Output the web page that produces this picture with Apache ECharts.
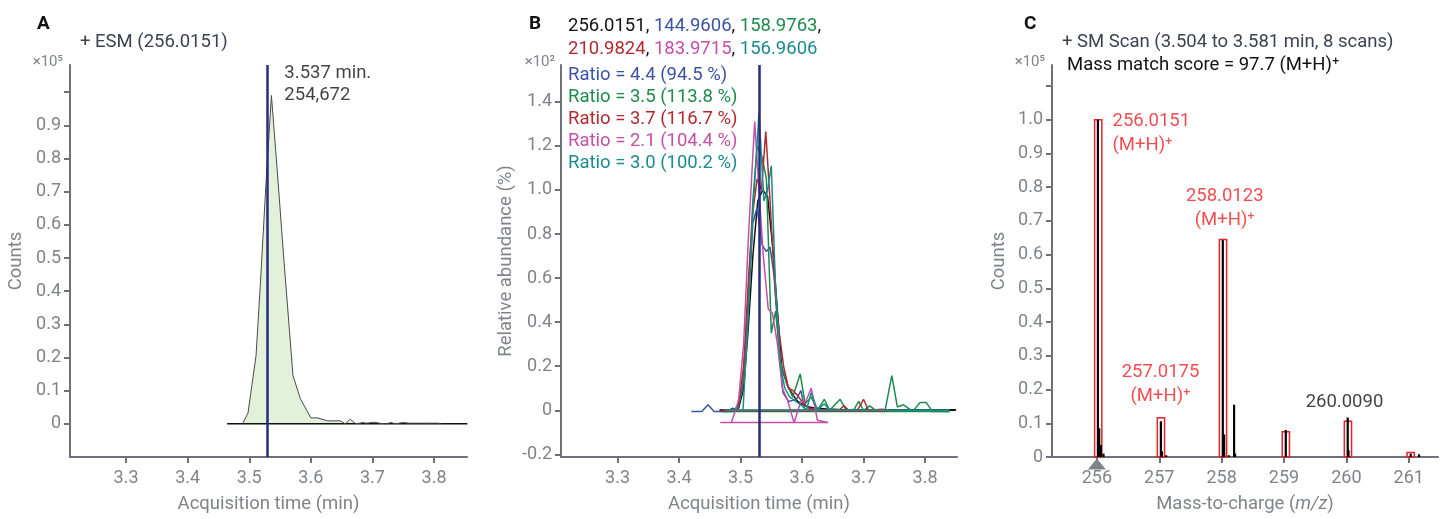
<!DOCTYPE html>
<html>
<head>
<meta charset="utf-8">
<script src="https://cdn.jsdelivr.net/npm/echarts@6/dist/echarts.min.js"></script>
<style>
html,body{margin:0;padding:0;background:#fff}
#main{width:1440px;height:519px}
</style>
</head>
<body>
<div id="main"></div>
<script>
// ---- panel A : extracted ion chromatogram ----
var timeTicks = [3.3, 3.4, 3.5, 3.6, 3.7, 3.8];
var countTicksA = [0, 0.1, 0.2, 0.3, 0.4, 0.5, 0.6, 0.7, 0.8, 0.9, 1.0];
var countLabelsA = [0, 0.1, 0.2, 0.3, 0.4, 0.5, 0.6, 0.7, 0.8, 0.9];
var esmTrace = [[3.489,0],[3.498,0.033],[3.511,0.205],[3.518,0.42],[3.527,0.72],[3.536,0.99],[3.546,0.75],[3.556,0.5],
  [3.571,0.145],[3.583,0.076],[3.600,0.018],[3.611,0.018],[3.627,0.009],[3.648,0.009],[3.656,0],[3.664,0.014],
  [3.673,0],[3.685,0.004],[3.690,0.002],[3.703,0.005],[3.714,0.001],[3.722,0],[3.730,0.004],[3.738,0],
  [3.749,0.004],[3.760,0.002],[3.776,0.002],[3.792,0.002],[3.808,0.002],[3.811,0]];
var esmBaseline = [[3.464,0],[3.854,0]];
var apexTime = 3.533;

// ---- panel B : qualifier ions ----
var ionNames = ['256.0151','144.9606','158.9763','210.9824','183.9715','156.9606'];
var ratioTexts = ['Ratio = 4.4 (94.5 %)','Ratio = 3.5 (113.8 %)','Ratio = 3.7 (116.7 %)','Ratio = 2.1 (104.4 %)','Ratio = 3.0 (100.2 %)'];
var abundTicks = [-0.2, 0, 0.2, 0.4, 0.6, 0.8, 1.0, 1.2, 1.4];
var ion256 = [[3.466,0],[3.489,0],[3.497,0.01],[3.505,0.1],[3.512,0.35],[3.52,0.7],[3.528,0.95],[3.536,1.0],[3.544,0.97],
  [3.552,0.75],[3.56,0.45],[3.567,0.19],[3.577,0.11],[3.585,0.07],[3.593,0.04],[3.6,0.028],[3.61,0.016],[3.62,0.01],
  [3.64,0.006],[3.66,0.004],[3.7,0.003],[3.75,0.003],[3.8,0.002],[3.85,0.002]];
var ion145 = [[3.42,-0.005],[3.437,-0.005],[3.447,0.025],[3.457,-0.005],[3.478,-0.005],[3.487,0.01],[3.495,0],[3.503,0.1],
  [3.512,0.45],[3.52,0.85],[3.527,0.92],[3.535,0.75],[3.542,0.72],[3.548,0.74],[3.555,0.6],[3.562,0.3],[3.569,0.08],
  [3.578,0.04],[3.585,0.045],[3.591,0.05],[3.598,0.09],[3.605,0],[3.615,0.005],[3.64,0]];
var ion159 = [[3.47,-0.005],[3.49,-0.005],[3.497,0.02],[3.505,0.15],[3.513,0.55],[3.52,0.95],[3.527,1.2],[3.535,1.15],
  [3.542,1.05],[3.55,0.35],[3.557,0.45],[3.565,0.22],[3.575,0.12],[3.585,0.06],[3.597,0.165],[3.605,0.03],[3.615,0.06],
  [3.625,0],[3.636,0.05],[3.645,0],[3.662,0.05],[3.672,0],[3.685,0.005],[3.692,0.04],[3.7,0],[3.71,0.02],[3.72,0],
  [3.735,0],[3.746,0.157],[3.755,0.015],[3.765,0.025],[3.78,-0.005],[3.792,0.035],[3.802,0.035],[3.812,-0.005],[3.84,-0.005]];
var ion211 = [[3.47,-0.003],[3.49,0],[3.497,0.03],[3.505,0.2],[3.513,0.6],[3.52,0.9],[3.527,1.05],[3.534,1.0],[3.541,1.265],
  [3.548,0.95],[3.556,0.55],[3.563,0.35],[3.57,0.2],[3.578,0.1],[3.585,0.09],[3.592,0.07],[3.6,0.04],[3.61,0.01],
  [3.63,0],[3.66,0],[3.668,0.02],[3.676,0],[3.69,0],[3.7,0.05],[3.708,0],[3.73,0.005],[3.74,0]];
var ion184 = [[3.485,-0.055],[3.493,0.01],[3.497,0.05],[3.505,0.3],[3.513,0.8],[3.523,1.31],[3.53,1.0],[3.537,0.7],
  [3.545,0.46],[3.552,0.44],[3.56,0.3],[3.568,0.1],[3.576,0.05],[3.587,-0.057],[3.598,0.04],[3.606,0.04],[3.615,0.1],
  [3.625,-0.045],[3.642,-0.055]];
var ion157 = [[3.48,0],[3.497,0],[3.504,0],[3.512,0.4],[3.52,0.9],[3.53,1.35],[3.538,0.95],[3.544,1.0],[3.55,1.11],
  [3.557,0.55],[3.565,0.2],[3.572,0.1],[3.58,0.06],[3.59,0.04],[3.6,0.02],[3.607,0],[3.615,0.08],[3.625,0],
  [3.636,0.03],[3.645,0],[3.84,0]];
// integration baselines: start, end, level
var ionBaselines = [[3.466,3.85,0],null,[3.47,3.84,-0.006],[3.47,3.74,-0.003],[3.467,3.642,-0.055],[3.475,3.84,0]];

// ---- panel C : mass spectrum ----
var mzTicks = [256, 257, 258, 259, 260, 261];
var countTicksC = [0, 0.1, 0.2, 0.3, 0.4, 0.5, 0.6, 0.7, 0.8, 0.9, 1.0, 1.1];
var countLabelsC = [0, 0.1, 0.2, 0.3, 0.4, 0.5, 0.6, 0.7, 0.8, 0.9, 1.0];
var isoMz = [256.021, 257.027, 258.022, 259.03, 260.026, 261.032];
var isoHeight = [1.0, 0.116, 0.645, 0.075, 0.106, 0.013];
var stickMz = [256.016, 256.037, 256.064, 256.106, 257.026, 257.042, 257.111, 258.019, 258.04, 258.115, 258.2, 258.216,
  259.029, 260.022, 260.035, 261.032, 261.165];
var stickCounts = [1.0, 0.085, 0.036, 0.01, 0.106, 0.017, 0.005, 0.643, 0.067, 0.005, 0.155, 0.01,
  0.08, 0.117, 0.02, 0.01, 0.008];

var FONT = 'Roboto, sans-serif';
var axisColor = '#6e7177';
var labelColor = '#80848a';
var titleColor = '#3b4350';
var apexColor = '#262c7e';
var ionColors = ['#111111','#3b53a6','#1e8a4c','#b3282e','#c44fa5','#1b8b8b'];
var isoRed = '#ec1f26';

function fmt1(v) { return Math.abs(v) < 1e-9 ? '0' : v.toFixed(1); }

function xAx(grid, min, max, ticks, fmt, name) {
  return {
    type: 'value', gridIndex: grid, min: min, max: max,
    axisLine: { show: true, onZero: false, lineStyle: { color: axisColor, width: 2 } },
    axisTick: { show: true, length: 6, customValues: ticks, lineStyle: { color: axisColor, width: 2 } },
    axisLabel: { customValues: ticks, formatter: fmt, color: labelColor, fontSize: 18, fontFamily: FONT, margin: 12 },
    splitLine: { show: false },
    name: name, nameLocation: 'middle', nameGap: 38,
    nameTextStyle: { color: labelColor, fontSize: 18.5, fontFamily: FONT, rich: { i: { fontStyle: 'italic', color: labelColor, fontSize: 18.5, fontFamily: FONT } } }
  };
}
function yAx(grid, min, max, ticks, labels, name, gap) {
  return {
    type: 'value', gridIndex: grid, min: min, max: max,
    axisLine: { show: true, onZero: false, lineStyle: { color: axisColor, width: 2 } },
    axisTick: { show: true, length: 6, customValues: ticks, lineStyle: { color: axisColor, width: 2 } },
    axisLabel: { customValues: labels, formatter: fmt1, color: labelColor, fontSize: 18, fontFamily: FONT, margin: 9 },
    splitLine: { show: false },
    name: name, nameLocation: 'middle', nameGap: gap,
    nameTextStyle: { color: labelColor, fontSize: 18.5, fontFamily: FONT }
  };
}

var series = [];

// A
series.push({ type: 'line', xAxisIndex: 0, yAxisIndex: 0, data: esmBaseline, symbol: 'none', silent: true,
  lineStyle: { color: '#111', width: 1.5 } });
series.push({ type: 'line', xAxisIndex: 0, yAxisIndex: 0, data: esmTrace, symbol: 'none', silent: true,
  lineStyle: { color: '#4a4a4a', width: 1 }, areaStyle: { color: '#e3f0da', opacity: 1 },
  markLine: { silent: true, symbol: ['none', 'none'], label: { show: false },
    lineStyle: { color: apexColor, width: 2.5, type: 'solid' }, data: [{ xAxis: apexTime }] } });
series.push({ type: 'scatter', xAxisIndex: 0, yAxisIndex: 0, symbolSize: 0, silent: true,
  data: [{ value: [3.557, 1.025] }],
  label: { show: true, position: 'right', distance: 0, formatter: '3.537 min.\n254,672', color: '#111',
    fontSize: 18.5, fontFamily: FONT, lineHeight: 22, align: 'left' } });

// B
var ionTraces = [ion256, ion145, ion159, ion211, ion184, ion157];
var drawOrder = [0, 1, 2, 3, 4, 5];
drawOrder.forEach(function (i) {
  var b = ionBaselines[i];
  if (b) {
    series.push({ type: 'line', xAxisIndex: 1, yAxisIndex: 1, data: [[b[0], b[2]], [b[1], b[2]]], symbol: 'none',
      silent: true, lineStyle: { color: ionColors[i], width: 1.5 } });
  }
  series.push({ type: 'line', xAxisIndex: 1, yAxisIndex: 1, data: ionTraces[i], symbol: 'none', silent: true,
    lineStyle: { color: ionColors[i], width: 1.5 } });
});
series.push({ type: 'line', xAxisIndex: 1, yAxisIndex: 1, data: [], symbol: 'none', silent: true,
  markLine: { silent: true, symbol: ['none', 'none'], label: { show: false },
    lineStyle: { color: apexColor, width: 2.5, type: 'solid' }, data: [{ xAxis: apexTime }] } });

// C
series.push({ type: 'custom', xAxisIndex: 2, yAxisIndex: 2, silent: true,
  data: isoMz.map(function (m, i) { return [m, isoHeight[i]]; }),
  renderItem: function (params, api) {
    var p0 = api.coord([api.value(0) - 0.058, 0]);
    var p1 = api.coord([api.value(0) + 0.058, api.value(1)]);
    return { type: 'rect', shape: { x: p0[0], y: p1[1], width: p1[0] - p0[0], height: p0[1] - p1[1] },
      style: { fill: 'none', stroke: isoRed, lineWidth: 1.5 } };
  } });
series.push({ type: 'custom', xAxisIndex: 2, yAxisIndex: 2, silent: true,
  data: stickMz.map(function (m, i) { return [m, stickCounts[i]]; }),
  renderItem: function (params, api) {
    var p0 = api.coord([api.value(0), 0]);
    var p1 = api.coord([api.value(0), api.value(1)]);
    return { type: 'rect', shape: { x: p0[0] - 1.1, y: p1[1], width: 2.2, height: p0[1] - p1[1] },
      style: { fill: '#000' } };
  } });
var peakNotes = [
  { value: [256.25, 0.958], text: '256.0151\n(M+H)\u207A', color: isoRed, pos: 'right' },
  { value: [258.05, 0.737], text: '258.0123\n(M+H)\u207A', color: isoRed, pos: 'inside' },
  { value: [257.02, 0.2145], text: '257.0175\n(M+H)\u207A', color: isoRed, pos: 'inside' },
  { value: [259.97, 0.161], text: '260.0090', color: '#111', pos: 'inside' }
];
series.push({ type: 'scatter', xAxisIndex: 2, yAxisIndex: 2, symbolSize: 0, silent: true, clip: false,
  data: peakNotes.map(function (n) {
    return { value: n.value, label: { show: true, position: n.pos, distance: 0, formatter: n.text, color: n.color,
      fontSize: 18.5, fontFamily: FONT, lineHeight: 24 } };
  }),
  markPoint: { silent: true, symbol: 'triangle', symbolSize: [18, 11], symbolOffset: [0, 7],
    itemStyle: { color: '#808389' }, label: { show: false }, data: [{ coord: [256, 0] }] } });

function txt(x, y, text, extra) {
  var st = { text: text, fill: titleColor, font: '18.5px ' + FONT, verticalAlign: 'middle', align: 'left' };
  for (var k in extra) st[k] = extra[k];
  return { type: 'text', x: x, y: y, silent: true, style: st };
}
var richIons = {};
['k', 'b', 'g', 'r', 'p', 't'].forEach(function (key, i) {
  richIons[key] = { fill: ionColors[i], font: '18.5px ' + FONT, lineHeight: 23 };
});
var ionText = '{k|' + ionNames[0] + ', }{b|' + ionNames[1] + '}{k|, }{g|' + ionNames[2] + '}{k|,}\n' +
  '{r|' + ionNames[3] + '}{k|, }{p|' + ionNames[4] + '}{k|, }{t|' + ionNames[5] + '}';
var ratioText = ratioTexts.map(function (t, i) { return '{' + ['b', 'g', 'r', 'p', 't'][i] + '|' + t + '}'; }).join('\n');
var richRatio = {};
['b', 'g', 'r', 'p', 't'].forEach(function (key, i) {
  richRatio[key] = { fill: ionColors[i + 1], font: '18.5px ' + FONT, lineHeight: 22 };
});

var graphics = [
  txt(37, 24, 'A', { fill: '#111', font: 'bold 19px ' + FONT }),
  txt(80, 42, '+ ESM (256.0151)'),
  txt(63, 62, '\u00D710\u2075', { fill: labelColor, font: '15px ' + FONT, align: 'right' }),
  txt(529, 24, 'B', { fill: '#111', font: 'bold 19px ' + FONT }),
  txt(568, 37.5, ionText, { rich: richIons, fill: '#111' }),
  txt(555, 62, '\u00D710\u00B2', { fill: labelColor, font: '15px ' + FONT, align: 'right' }),
  txt(568, 119.5, ratioText, { rich: richRatio }),
  txt(1024, 24, 'C', { fill: '#111', font: 'bold 19px ' + FONT }),
  txt(1062, 42, '+ SM Scan (3.504 to 3.581 min, 8 scans)'),
  txt(1045, 62, '\u00D710\u2075', { fill: labelColor, font: '15px ' + FONT, align: 'right' }),
  txt(1067, 65, 'Mass match score = 97.7 (M+H)\u207A', { fill: '#111' })
];

var chart = echarts.init(document.getElementById('main'));
chart.setOption({
  animation: false,
  backgroundColor: '#fff',
  textStyle: { fontFamily: FONT },
  grid: [
    { left: 70, right: 973, top: 65, bottom: 60 },
    { left: 561, right: 483, top: 65, bottom: 60 },
    { left: 1052, right: 2, top: 65, bottom: 60 }
  ],
  xAxis: [
    xAx(0, 3.209, 3.8535, timeTicks, fmt1, 'Acquisition time (min)'),
    xAx(1, 3.208, 3.852, timeTicks, fmt1, 'Acquisition time (min)'),
    xAx(2, 255.28, 261.47, mzTicks, function (v) { return String(v); }, 'Mass-to-charge ({i|m/z})')
  ],
  yAxis: [
    yAx(0, -0.1, 1.082, countTicksA, countLabelsA, 'Counts', 44),
    yAx(1, -0.212, 1.567, abundTicks, abundTicks, 'Relative abundance (%)', 45),
    yAx(2, 0, 1.162, countTicksC, countLabelsC, 'Counts', 43)
  ],
  series: series,
  graphic: graphics
});
</script>
</body>
</html>
